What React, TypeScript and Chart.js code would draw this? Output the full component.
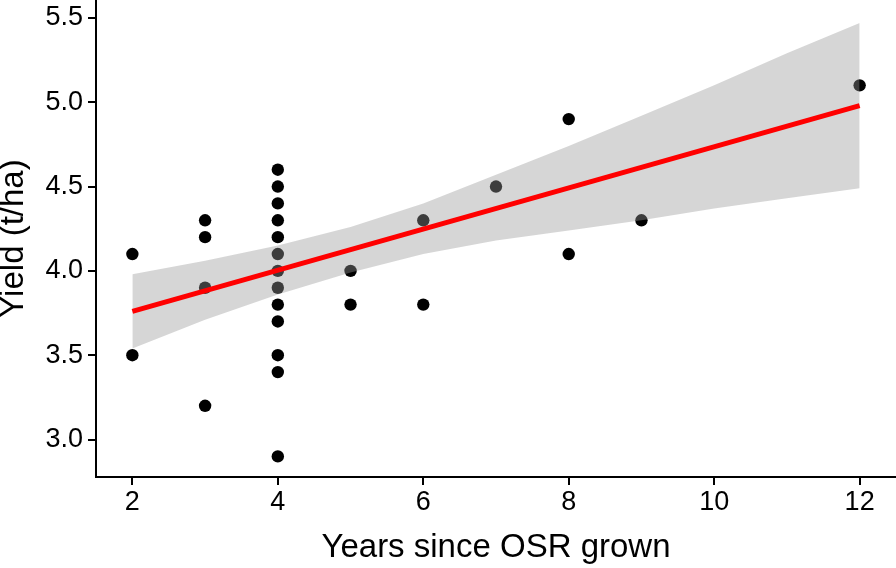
import React, { useEffect, useRef } from "react";
import { Chart, registerables } from "chart.js";

Chart.register(...registerables);

// Observed data: years since OSR grown vs yield (t/ha)
const pointX = [2, 2, 3, 3, 3, 3, 4, 4, 4, 4, 4, 4, 4, 4, 4, 4, 4, 4, 4, 5, 5, 6, 6, 7, 8, 8, 9, 12];
const pointY = [4.1, 3.5, 4.3, 4.2, 3.9, 3.2, 4.6, 4.5, 4.4, 4.3, 4.2, 4.1, 4.0, 3.9, 3.8, 3.7, 3.5, 3.4, 2.9, 4.0, 3.8, 4.3, 3.8, 4.5, 4.9, 4.1, 4.3, 5.1];

// Fitted regression line
const fitX = [2, 12];
const fitY = [3.76, 4.98];

// Confidence band edges
const bandX = [2, 3, 4, 5, 6, 7, 8, 9, 10, 11, 12];
const bandUpper = [3.98, 4.06, 4.15, 4.26, 4.4, 4.57, 4.74, 4.92, 5.1, 5.29, 5.47];
const bandLower = [3.54, 3.71, 3.86, 3.99, 4.1, 4.18, 4.24, 4.3, 4.37, 4.43, 4.49];

// Axis ticks
const xTicks = [2, 4, 6, 8, 10, 12];
const yTicks = [3.0, 3.5, 4.0, 4.5, 5.0, 5.5];

const xTitle = "Years since OSR grown";
const yTitle = "Yield (t/ha)";

const FONT = "'Liberation Sans', Arial, Helvetica, sans-serif";

export default function App() {
  const ref = useRef<HTMLCanvasElement | null>(null);

  useEffect(() => {
    if (!ref.current) return;
    const zip = (xs: number[], ys: number[]) => xs.map((x, i) => ({ x, y: ys[i] }));
    const chart = new Chart(ref.current, {
      type: "scatter",
      data: {
        datasets: [
          {
            type: "scatter",
            label: "obs",
            data: zip(pointX, pointY),
            backgroundColor: "#000000",
            borderWidth: 0,
            pointRadius: 6.2,
            order: 3,
          },
          {
            type: "line",
            label: "upper",
            data: zip(bandX, bandUpper),
            borderWidth: 0,
            pointRadius: 0,
            fill: "+1",
            backgroundColor: "rgba(153,153,153,0.4)",
            borderColor: "rgba(0,0,0,0)",
            tension: 0,
            order: 1,
          },
          {
            type: "line",
            label: "lower",
            data: zip(bandX, bandLower),
            borderWidth: 0,
            pointRadius: 0,
            fill: false,
            borderColor: "rgba(0,0,0,0)",
            tension: 0,
            order: 2,
          },
          {
            type: "line",
            label: "fit",
            data: zip(fitX, fitY),
            borderColor: "#ff0000",
            borderWidth: 5,
            pointRadius: 0,
            fill: false,
            order: 0,
          },
        ],
      },
      options: {
        animation: false,
        responsive: false,
        maintainAspectRatio: false,
        layout: { padding: 0, autoPadding: false },
        plugins: {
          legend: { display: false },
          tooltip: { enabled: false },
          filler: { drawTime: "beforeDatasetDraw" },
        } as any,
        scales: {
          x: {
            type: "linear",
            min: 1.5,
            max: 12.5,
            afterBuildTicks: (s: any) => {
              s.ticks = xTicks.map((v) => ({ value: v }));
            },
            afterFit: (s: any) => {
              s.height = 91;
              s.paddingLeft = 0;
              s.paddingRight = 0;
            },
            grid: {
              display: true,
              drawOnChartArea: false,
              drawTicks: true,
              tickLength: 8,
              color: "#000000",
              lineWidth: 2,
            },
            border: { display: true, color: "#000000", width: 2 },
            ticks: {
              color: "#000000",
              font: { family: FONT, size: 27 },
              padding: 1,
              maxRotation: 0,
              callback: (v: any) => String(v),
            },
            title: {
              display: true,
              text: xTitle,
              color: "#000000",
              font: { family: FONT, size: 33 },
              padding: { top: 0, bottom: 0 },
            },
          },
          y: {
            type: "linear",
            min: 2.778,
            max: 5.606,
            afterBuildTicks: (s: any) => {
              s.ticks = yTicks.map((v) => ({ value: v }));
            },
            afterFit: (s: any) => {
              s.width = 96;
              s.paddingTop = 0;
              s.paddingBottom = 0;
            },
            grid: {
              display: true,
              drawOnChartArea: false,
              drawTicks: true,
              tickLength: 8,
              color: "#000000",
              lineWidth: 2,
            },
            border: { display: true, color: "#000000", width: 2 },
            ticks: {
              color: "#000000",
              font: { family: FONT, size: 27 },
              padding: 5,
              callback: (v: any) => Number(v).toFixed(1),
            },
            title: {
              display: true,
              text: yTitle,
              color: "#000000",
              font: { family: FONT, size: 33, lineHeight: 0.82 },
              padding: { top: 0, bottom: 0 },
            },
          },
        },
      },
    });
    return () => chart.destroy();
  }, []);

  return (
    <div style={{ position: "fixed", left: 0, top: 0, width: 896, height: 568, background: "#ffffff" }}>
      <canvas ref={ref} width={896} height={568} style={{ width: 896, height: 568, display: "block" }} />
    </div>
  );
}
